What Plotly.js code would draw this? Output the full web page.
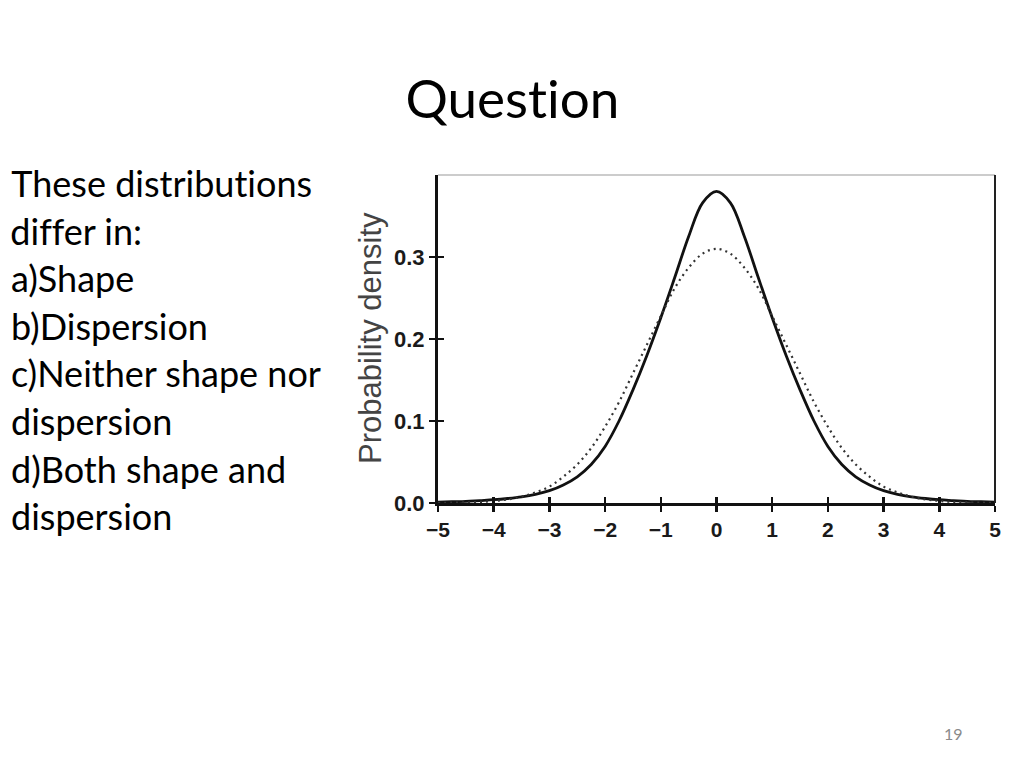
<!DOCTYPE html>
<html>
<head>
<meta charset="utf-8">
<script src="https://cdn.plot.ly/plotly-3.0.1.min.js"></script>
<style>
html,body{margin:0;padding:0;background:#fff;}
#chart{width:1024px;height:768px;}
#chart text{font-variant-ligatures:none;font-feature-settings:"liga" 0;}
</style>
</head>
<body>
<div id="chart"></div>
<script>
// x positions (standard units)
const xValues = [-5,-4.75,-4.5,-4.25,-4,-3.75,-3.5,-3.25,-3,-2.75,-2.5,-2.25,-2,-1.75,-1.5,-1.25,-1,-0.75,-0.5,-0.25,0,
                 0.25,0.5,0.75,1,1.25,1.5,1.75,2,2.25,2.5,2.75,3,3.25,3.5,3.75,4,4.25,4.5,4.75,5];
// solid curve (peaked, heavier tails)
const solidDensity = [0.001,0.0015,0.002,0.003,0.004,0.0055,0.0075,0.0105,0.015,0.022,0.032,0.047,0.069,0.100,0.138,0.180,0.226,0.275,0.325,0.366,0.380,
                      0.366,0.325,0.275,0.226,0.180,0.138,0.100,0.069,0.047,0.032,0.022,0.015,0.0105,0.0075,0.0055,0.004,0.003,0.002,0.0015,0.001];
// dotted curve (flatter)
const dottedDensity = [0.0002,0.0004,0.0007,0.0013,0.0025,0.0044,0.0077,0.013,0.020,0.032,0.047,0.067,0.093,0.123,0.158,0.193,0.228,0.262,0.287,0.304,0.310,
                       0.304,0.287,0.262,0.228,0.193,0.158,0.123,0.093,0.067,0.047,0.032,0.020,0.013,0.0077,0.0044,0.0025,0.0013,0.0007,0.0004,0.0002];
const xTicks = [-5,-4,-3,-2,-1,0,1,2,3,4,5];
const yTicks = [0,0.1,0.2,0.3];
const yTickLabels = ['0.0','0.1','0.2','0.3'];

const slideTitle = 'Question';
const bodyLines = ['These distributions','differ in:','a)Shape','b)Dispersion','c)Neither shape nor','dispersion','d)Both shape and','dispersion'];
const yAxisTitle = 'Probability density';
const pageNumber = '19';

// plot geometry (pixels)
const W = 1024, H = 768;
const L = 438, R = 995, T = 175, B = 503;
const pw = R - L, ph = B - T;
const px2x = p => (p - L) / pw;
const px2y = p => (B - p) / ph;

const traces = [
  {x: xValues, y: dottedDensity, type: 'scatter', mode: 'lines', xaxis: 'x2', yaxis: 'y2',
   line: {color: '#333', width: 2.2, dash: '2px,4px', shape: 'spline'}, hoverinfo: 'skip'},
  {x: xValues, y: solidDensity, type: 'scatter', mode: 'lines',
   line: {color: '#111', width: 2.8, shape: 'spline'}, hoverinfo: 'skip'}
];

const tickFontX = {family: 'Liberation Sans, Arial, sans-serif', size: 21, color: '#1a1a1a', weight: 'bold'};
const tickFontY = {family: 'Liberation Sans, Arial, sans-serif', size: 22, color: '#1a1a1a', weight: 'bold'};

const annotations = [];
annotations.push({text: slideTitle, xref: 'paper', yref: 'paper', x: px2x(512), y: px2y(97),
  xanchor: 'center', yanchor: 'middle', showarrow: false,
  font: {family: 'Lato, sans-serif', size: 53, color: '#000'}});
bodyLines.forEach((t, i) => {
  annotations.push({text: t, xref: 'paper', yref: 'paper', x: px2x(9), y: px2y(183 + i * 47.6),
    xanchor: 'left', yanchor: 'middle', showarrow: false,
    font: {family: 'Lato, sans-serif', size: 36, color: '#000'}});
});
annotations.push({text: yAxisTitle, xref: 'paper', yref: 'paper', x: px2x(370), y: px2y(338),
  xanchor: 'center', yanchor: 'middle', textangle: -90, showarrow: false,
  font: {family: 'Liberation Sans, Arial, sans-serif', size: 31, color: '#444'}});
annotations.push({text: pageNumber, xref: 'paper', yref: 'paper', x: px2x(953), y: px2y(733),
  xanchor: 'center', yanchor: 'middle', showarrow: false,
  font: {family: 'Lato, sans-serif', size: 16, color: '#8a8a8a'}});

const layout = {
  width: W, height: H,
  margin: {l: L, r: W - R, t: T, b: H - B, pad: 0},
  paper_bgcolor: '#fff', plot_bgcolor: '#fff',
  showlegend: false,
  xaxis: {range: [-5, 5], tickvals: xTicks, ticks: 'outside', ticklen: 6, tickwidth: 2.5, tickcolor: '#111',
          showline: true, linewidth: 3, linecolor: '#111', showgrid: false, zeroline: false,
          tickfont: tickFontX, fixedrange: true},
  yaxis: {range: [0, 0.4], tickvals: yTicks, ticktext: yTickLabels, ticks: 'outside', ticklen: 6, tickwidth: 2.5, tickcolor: '#111',
          showline: true, linewidth: 3, linecolor: '#111', showgrid: false, zeroline: false,
          tickfont: tickFontY, fixedrange: true},
  xaxis2: {range: [-5, 5], overlaying: 'x', anchor: 'y2', side: 'bottom', tickvals: xTicks, ticks: 'inside', ticklen: 6, tickwidth: 2.5,
           tickcolor: '#111', showticklabels: false, showline: false, showgrid: false, zeroline: false, fixedrange: true},
  yaxis2: {range: [0, 0.4], overlaying: 'y', anchor: 'x2', side: 'left', tickvals: yTicks, ticks: 'inside', ticklen: 6, tickwidth: 2.5,
           tickcolor: '#111', showticklabels: false, showline: false, showgrid: false, zeroline: false, fixedrange: true},
  shapes: [
    {type: 'line', xref: 'paper', yref: 'paper', x0: 0, x1: 1, y0: 1, y1: 1, line: {color: '#9a9a9a', width: 1.2}},
    {type: 'line', xref: 'paper', yref: 'paper', x0: 1, x1: 1, y0: 0, y1: 1, line: {color: '#222', width: 2}}
  ],
  annotations: annotations
};

Plotly.newPlot('chart', traces, layout, {staticPlot: true, displayModeBar: false});
</script>
</body>
</html>
